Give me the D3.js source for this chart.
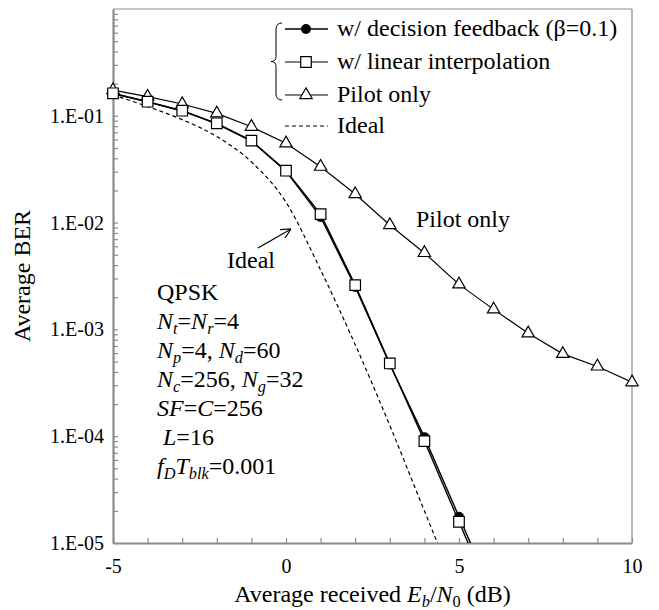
<!DOCTYPE html>
<html>
<head>
<meta charset="utf-8">
<script src="https://cdn.jsdelivr.net/npm/d3@7"></script>
<style>
  body { margin: 0; background: #fff; }
  svg { display: block; }
  svg text { font-family: "Liberation Serif", "Times New Roman", serif; }
</style>
</head>
<body>
<div id="chart"></div>
<script>
// ---- data ----
const snrDF = [-5, -4, -3, -2, -1, 0, 1, 2, 3, 4, 5, 6];
const berDF = [0.161, 0.135, 0.111, 0.084, 0.058, 0.0303, 0.0113, 0.0025, 0.00047, 0.000098, 0.0000176, 0.0000032];

const snrLI = [-5, -4, -3, -2, -1, 0, 1, 2, 3, 4, 5, 6];
const berLI = [0.1625, 0.1355, 0.1116, 0.0851, 0.0585, 0.0306, 0.0120, 0.0026, 0.00048, 0.000090, 0.0000158, 0.0000028];

const snrPilot = [-5, -4, -3, -2, -1, 0, 1, 2, 3, 4, 5, 6, 7, 8, 9, 10];
const berPilot = [0.174, 0.151, 0.129, 0.1055, 0.079, 0.0553, 0.0334, 0.0185, 0.0095, 0.0052, 0.00264, 0.00154, 0.00092, 0.00059, 0.00045, 0.00032];

const snrIdeal = [-5, -4, -3, -2, -1, 0, 1, 2, 3, 4, 5];
const berIdeal = [0.157, 0.122, 0.092, 0.064, 0.037, 0.0155, 0.0036, 0.00072, 0.000126, 0.000020, 0.0000032];

const xTicks = d3.range(-5, 11);
const xTickLabels = [-5, 0, 5, 10];
const yTickLabelValues = [1e-1, 1e-2, 1e-3, 1e-4, 1e-5];
const yTickLabels = ["1.E-01", "1.E-02", "1.E-03", "1.E-04", "1.E-05"];

const legendLabels = ["w/ decision feedback (\u03b2=0.1)", "w/ linear interpolation", "Pilot only", "Ideal"];

const width = 659, height = 610;
const margin = { top: 9, right: 27, bottom: 67, left: 113 };
const innerWidth = width - margin.left - margin.right;
const innerHeight = height - margin.top - margin.bottom;
const axisColor = "#8c8c8c";
const serif = "Liberation Serif";

const svg = d3.select("#chart").append("svg")
  .attr("width", width)
  .attr("height", height)
  .attr("font-family", serif);

const inner = svg.append("g")
  .attr("transform", `translate(${margin.left},${margin.top})`);

const x = d3.scaleLinear().domain([-5, 10]).range([0, innerWidth]);
const y = d3.scaleLog().domain([1e-5, 1]).range([innerHeight, 0]);

const defs = svg.append("defs");
defs.append("clipPath").attr("id", "plotClip")
  .append("rect").attr("width", innerWidth).attr("height", innerHeight);

// frame (top / right)
inner.append("line").attr("x1", 0).attr("x2", innerWidth).attr("y1", 0).attr("y2", 0)
  .attr("stroke", axisColor).attr("stroke-width", 1.2);
inner.append("line").attr("x1", innerWidth).attr("x2", innerWidth).attr("y1", 0).attr("y2", innerHeight)
  .attr("stroke", axisColor).attr("stroke-width", 1.2);

// y axis: all log ticks inside, labels at decades
const yAll = y.ticks().filter(d => d < 1);
const yAxis = inner.append("g")
  .call(d3.axisLeft(y)
    .tickValues(yAll)
    .tickSizeInner(-5)
    .tickSizeOuter(0)
    .tickPadding(9)
    .tickFormat(d => {
      const i = yTickLabelValues.findIndex(v => Math.abs(v - d) / v < 1e-6);
      return i >= 0 ? yTickLabels[i] : "";
    }));
yAxis.attr("font-family", serif).attr("font-size", 20);
yAxis.select(".domain").attr("stroke", axisColor).attr("stroke-width", 2.2);
yAxis.selectAll(".tick line").attr("stroke", axisColor).attr("stroke-width", 1.2);
yAxis.selectAll(".tick text").attr("fill", "#000");
yAxis.selectAll(".tick text").filter(function () { return this.textContent === ""; }).remove();

// x axis
const xAxis = inner.append("g")
  .attr("transform", `translate(0,${innerHeight})`)
  .call(d3.axisBottom(x)
    .tickValues(xTicks)
    .tickSizeInner(-5)
    .tickSizeOuter(0)
    .tickPadding(16)
    .tickFormat(d => xTickLabels.includes(d) ? d : ""));
xAxis.attr("font-family", serif).attr("font-size", 20);
xAxis.select(".domain").attr("stroke", axisColor).attr("stroke-width", 2.2);
xAxis.selectAll(".tick line").attr("stroke", axisColor).attr("stroke-width", 1.2);
xAxis.selectAll(".tick text").attr("fill", "#000");
xAxis.selectAll(".tick text").filter(function () { return this.textContent === ""; }).remove();

// rich text helper: [text, style] with style "" upright, "i" italic, "s" italic sub, "u" upright sub
function richText(g, tx, ty, parts, size, anchor) {
  const t = g.append("text").attr("x", tx).attr("y", ty)
    .attr("font-family", serif)
    .attr("font-size", size).attr("text-anchor", anchor || "start")
    .style("white-space", "pre");
  let shifted = false;
  parts.forEach(([s, st]) => {
    const sp = t.append("tspan").text(s);
    const sub = st === "s" || st === "u";
    if (st === "i" || st === "s") sp.attr("font-style", "italic");
    if (sub) {
      sp.attr("font-size", size * 0.68);
      if (!shifted) { sp.attr("dy", size * 0.22); shifted = true; }
    } else if (shifted) {
      sp.attr("dy", -size * 0.22); shifted = false;
    }
  });
  return t;
}

// curves
const plot = inner.append("g").attr("clip-path", "url(#plotClip)");

const line = d3.line().x(d => x(d[0])).y(d => y(d[1]));
const smooth = d3.line().x(d => x(d[0])).y(d => y(d[1])).curve(d3.curveMonotoneX);

const dIdeal = d3.zip(snrIdeal, berIdeal);
const dPilot = d3.zip(snrPilot, berPilot);
const dLI = d3.zip(snrLI, berLI);
const dDF = d3.zip(snrDF, berDF);

plot.append("path").datum(dIdeal).attr("d", smooth)
  .attr("fill", "none").attr("stroke", "#000").attr("stroke-width", 1.2).attr("stroke-dasharray", "4,3");
plot.append("path").datum(dPilot).attr("d", line)
  .attr("fill", "none").attr("stroke", "#000").attr("stroke-width", 1.2);
plot.append("path").datum(dLI).attr("d", line)
  .attr("fill", "none").attr("stroke", "#000").attr("stroke-width", 1.4);
plot.append("path").datum(dDF).attr("d", line)
  .attr("fill", "none").attr("stroke", "#000").attr("stroke-width", 1.4);

const triSym = d3.symbol().type(d3.symbolTriangle).size(66);
const sqSym = d3.symbol().type(d3.symbolSquare).size(112);

const marks = inner.append("g");
marks.selectAll(".tri").data(dPilot).join("path")
  .attr("transform", d => `translate(${x(d[0])},${y(d[1])})`)
  .attr("d", triSym).attr("fill", "#fff").attr("stroke", "#000").attr("stroke-width", 1.2);
marks.selectAll(".dot").data(dDF.filter(d => d[1] >= 1e-5)).join("circle")
  .attr("cx", d => x(d[0])).attr("cy", d => y(d[1])).attr("r", 5).attr("fill", "#000");
marks.selectAll(".sq").data(dLI.filter(d => d[1] >= 1e-5)).join("path")
  .attr("transform", d => `translate(${x(d[0])},${y(d[1])})`)
  .attr("d", sqSym).attr("fill", "#fff").attr("stroke", "#000").attr("stroke-width", 1.2);

// legend
const legend = svg.append("g");
const rowY = [29, 62, 95, 126];
const lx0 = 285, lx1 = 328, lmx = 306;
rowY.forEach((ry, i) => {
  legend.append("line").attr("x1", lx0).attr("x2", lx1).attr("y1", ry).attr("y2", ry)
    .attr("stroke", "#000").attr("stroke-width", i < 1 ? 1.6 : 1.2)
    .attr("stroke-dasharray", i === 3 ? "4,3" : null);
  if (i === 0) legend.append("circle").attr("cx", lmx).attr("cy", ry).attr("r", 5).attr("fill", "#000");
  if (i === 1) legend.append("path").attr("transform", `translate(${lmx},${ry})`).attr("d", sqSym)
    .attr("fill", "#fff").attr("stroke", "#000").attr("stroke-width", 1.2);
  if (i === 2) legend.append("path").attr("transform", `translate(${lmx},${ry})`).attr("d", triSym)
    .attr("fill", "#fff").attr("stroke", "#000").attr("stroke-width", 1.2);
  legend.append("text").attr("x", 337).attr("y", ry + 7)
    .attr("font-family", serif).attr("font-size", 24).text(legendLabels[i]);
});
// brace grouping the three estimated-channel curves
const bTop = rowY[0] - 6, bBot = rowY[2] + 5, bMid = (bTop + bBot) / 2;
const bx = 276, tipX = 271, endX = 282;
const brace = d3.path();
brace.moveTo(endX, bTop);
brace.quadraticCurveTo(bx, bTop, bx, bTop + 6);
brace.lineTo(bx, bMid - 5);
brace.quadraticCurveTo(bx, bMid, tipX, bMid);
brace.quadraticCurveTo(bx, bMid, bx, bMid + 5);
brace.lineTo(bx, bBot - 6);
brace.quadraticCurveTo(bx, bBot, endX, bBot);
legend.append("path").attr("d", brace.toString()).attr("fill", "none")
  .attr("stroke", "#000").attr("stroke-width", 1);

// annotations
svg.append("text").attr("x", 416).attr("y", 227)
  .attr("font-family", serif).attr("font-size", 24).text("Pilot only");
svg.append("text").attr("x", 227).attr("y", 268)
  .attr("font-family", serif).attr("font-size", 24).text("Ideal");
defs.append("marker").attr("id", "arrowHead")
  .attr("viewBox", "0 0 10 10").attr("refX", 10).attr("refY", 5)
  .attr("markerWidth", 10).attr("markerHeight", 10).attr("orient", "auto")
  .attr("markerUnits", "userSpaceOnUse")
  .append("path").attr("d", "M0,0 L10,5 L0,10").attr("fill", "none").attr("stroke", "#000").attr("stroke-width", 1.2);
svg.append("line").attr("x1", 258).attr("y1", 248).attr("x2", 291).attr("y2", 229)
  .attr("stroke", "#000").attr("stroke-width", 1.2).attr("marker-end", "url(#arrowHead)");

const paramLines = [
  [["QPSK", ""]],
  [["N", "i"], ["t", "s"], ["=", ""], ["N", "i"], ["r", "s"], ["=4", ""]],
  [["N", "i"], ["p", "s"], ["=4, ", ""], ["N", "i"], ["d", "s"], ["=60", ""]],
  [["N", "i"], ["c", "s"], ["=256, ", ""], ["N", "i"], ["g", "s"], ["=32", ""]],
  [["SF", "i"], ["=", ""], ["C", "i"], ["=256", ""]],
  [[" ", ""], ["L", "i"], ["=16", ""]],
  [["f", "i"], ["D", "s"], ["T", "i"], ["blk", "s"], ["=0.001", ""]]
];
paramLines.forEach((parts, i) => richText(svg, 157, 300 + i * 29, parts, 24));

// axis titles
richText(svg, margin.left + innerWidth / 2, 602,
  [["Average received ", ""], ["E", "i"], ["b", "s"], ["/", ""], ["N", "i"], ["0", "u"], [" (dB)", ""]], 24, "middle");
svg.append("text")
  .attr("transform", `translate(30,${margin.top + innerHeight / 2}) rotate(-90)`)
  .attr("font-family", serif)
  .attr("text-anchor", "middle").attr("font-size", 24).text("Average BER");
</script>
</body>
</html>
